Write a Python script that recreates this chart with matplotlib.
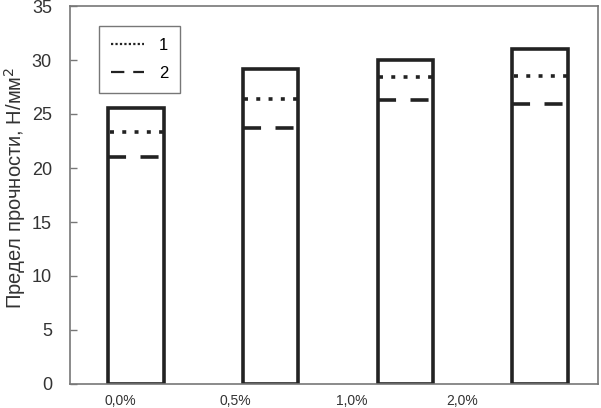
import matplotlib
matplotlib.use("Agg")
import matplotlib.pyplot as plt
from matplotlib.lines import Line2D

categories = ["0,0%", "0,5%", "1,0%", "2,0%"]
bar_values = [25.6, 29.2, 30.0, 31.0]
series1 = [23.3, 26.4, 28.4, 28.5]   # dotted
series2 = [21.0, 23.7, 26.3, 25.9]   # dashed
yticks = [0, 5, 10, 15, 20, 25, 30, 35]
label_offsets = [-0.12, -0.26, -0.40, -0.58]   # category labels sit left of bars in the original

plt.rcParams['font.family'] = ['Liberation Sans Narrow', 'Liberation Sans', 'DejaVu Sans']

fig = plt.figure(figsize=(6.01, 4.08), dpi=100)
ax = fig.add_axes([70/601, 1-384/408, 528/601, 378/408])

x = list(range(len(categories)))
w = 0.41
ax.bar(x, bar_values, width=w, facecolor='white', edgecolor='#222222', linewidth=2.6, zorder=2)
for xi, v1, v2 in zip(x, series1, series2):
    ax.hlines(v1, xi - w/2 + 0.01, xi + w/2, colors='#222222', linewidth=2.6,
              linestyles=(0, (1.1, 2.3)), zorder=3)
    ax.hlines(v2, xi - w/2, xi + w/2 - 0.03, colors='#222222', linewidth=2.6,
              linestyles=(0, (5.0, 4.0)), zorder=3)

ax.set_xlim(-0.49, 3.43)
ax.set_ylim(0, 35)
ax.set_yticks(yticks)
ax.set_yticklabels([str(t) for t in yticks], fontsize=13, color='#333333')
ax.set_xticks([xi + o for xi, o in zip(x, label_offsets)])
ax.set_xticklabels(categories, fontsize=10, color='#333333')
ax.tick_params(axis='y', direction='in', length=5, color='#777777', width=1, pad=13)
ax.tick_params(axis='x', length=0, pad=7)
for s in ax.spines.values():
    s.set_color('#777777')
    s.set_linewidth(1.2)
ax.set_ylabel("Предел прочности, Н/мм$^2$", fontsize=14.5, color='#333333')
ax.yaxis.set_label_coords(-0.080, 0.52)

handles = [Line2D([], [], color='#222222', linewidth=1.6, linestyle=(0, (1, 1))),
           Line2D([], [], color='#222222', linewidth=1.6, linestyle=(0, (6, 4)))]
leg = ax.legend(handles, ["1", "2"], loc='upper left', bbox_to_anchor=(0.055, 0.947),
                borderaxespad=0, fancybox=False, edgecolor='#777777', fontsize=12,
                handlelength=2.0, borderpad=0.7, labelspacing=0.8, handletextpad=0.9,
                framealpha=1)
leg.get_frame().set_linewidth(1.0)

fig.savefig("out.png", dpi=100)
